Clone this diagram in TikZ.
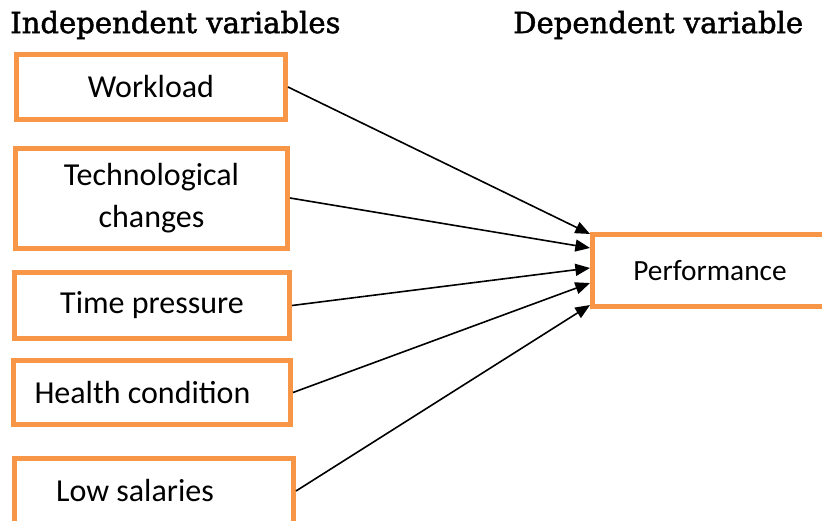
\documentclass[tikz,border=0pt]{standalone}
\usepackage{fontspec}
\setmainfont{Carlito}
\newfontfamily\headfont[FakeBold=1.6]{DejaVu Serif}
\usepackage[HTML]{xcolor}
\usetikzlibrary{positioning, arrows.meta}
\definecolor{boxorange}{HTML}{F79646}

\begin{document}
\begin{tikzpicture}[x=0.75pt, y=-0.75pt,
  varbox/.style={draw=boxorange, line width=3.75pt, inner sep=0pt, align=center,
    font=\fontsize{24}{31.5}\selectfont},
  heading/.style={anchor=west, inner sep=0pt, font=\headfont\fontsize{21.8}{25}\selectfont},
  link/.style={-{Triangle[length=11pt, width=9pt]}, line width=1.2pt}]
\useasboundingbox (0,0) rectangle (822,521);
\clip (0,0) rectangle (822,521);

% Headings
\node[heading] (indep) at (10,25) {Independent variables};
\node[heading] (dep) at (513,25) {Dependent variable};

% Independent variables
\node[varbox, minimum width=201.75pt, minimum height=48.75pt] (work) at (151,87) {Workload};
\node[varbox, minimum width=204pt, minimum height=75pt] (tech) at (151.5,198) {Technological\\changes};
\node[varbox, minimum width=206.25pt, minimum height=49.5pt] (time) at (152,305.5) {Time pressure};
\node[varbox, minimum width=207.75pt, minimum height=48pt] (health) at (152,392.5) {\hspace*{-14.25pt}Health condition};
\node[varbox, minimum width=209.25pt, minimum height=48.75pt] (salary) at (154,491) {\hspace*{-28.5pt}Low salaries};

% Dependent variable
\node[varbox, minimum width=176.25pt, minimum height=54pt, font=\fontsize{22}{26}\selectfont] (perf) at (710,270.5) {Performance};

% Links
\foreach \src/\dy in {work/27.4, tech/16.9, time/1.9, health/-9.4, salary/-25.9}{
  \draw[link] (\src.east) -- ([yshift=\dy pt]perf.west);
}
\end{tikzpicture}
\end{document}
